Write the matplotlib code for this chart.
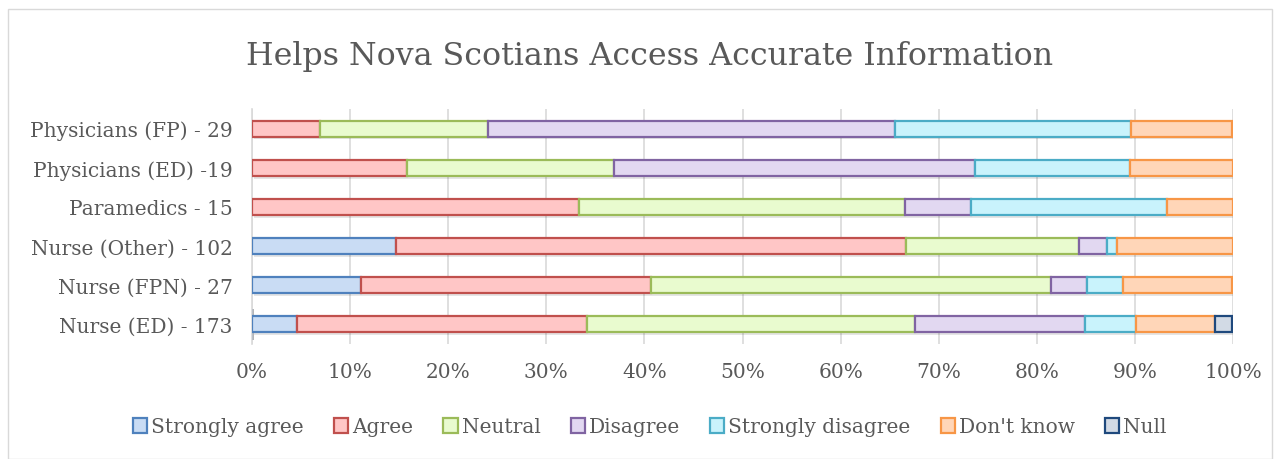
import matplotlib
matplotlib.use('Agg')
import matplotlib.pyplot as plt
from matplotlib.patches import Rectangle
import numpy as np

# --- data (percent of respondents) ---
groups = ["Nurse (ED) - 173", "Nurse (FPN) - 27", "Nurse (Other) - 102",
          "Paramedics - 15", "Physicians (ED) -19", "Physicians (FP) - 29"]
responses = ["Strongly agree", "Agree", "Neutral", "Disagree",
             "Strongly disagree", "Don't know", "Null"]

strongly_agree = [4.6, 11.1, 14.7, 0.0, 0.0, 0.0]
agree = [29.5, 29.6, 52.0, 33.3, 15.8, 6.9]
neutral = [33.5, 40.7, 17.6, 33.3, 21.1, 17.2]
disagree = [17.3, 3.7, 2.9, 6.7, 36.8, 41.4]
strongly_disagree = [5.2, 3.7, 1.0, 20.0, 15.8, 24.1]
dont_know = [8.1, 11.1, 11.8, 6.7, 10.5, 10.3]
null = [1.7, 0.0, 0.0, 0.0, 0.0, 0.0]

series = [strongly_agree, agree, neutral, disagree, strongly_disagree, dont_know, null]

fills = ["#c9dcf4", "#ffc6c6", "#e9fbcf", "#e2d8f1", "#c9f3fc", "#ffd6b8", "#d2dae5"]
edges = ["#4f81bd", "#c0504d", "#9bbb59", "#8064a2", "#4bacc6", "#f79646", "#1f497d"]

plt.rcParams['font.family'] = ['DejaVu Serif']
grey = "#595959"

fig = plt.figure(figsize=(12.81, 4.60), dpi=100)
ax = fig.add_axes([252 / 1281, 1 - 345 / 460, (1233 - 252) / 1281, (345 - 110) / 460])

# outer chart border
fig.patches.append(Rectangle((8 / 1281, 0), (1272 - 8) / 1281, 1 - 10 / 460,
                             transform=fig.transFigure, fill=False,
                             edgecolor="#d9d9d9", linewidth=1.0))

y = np.arange(len(groups))
h = 0.41
left = np.zeros(len(groups))
for vals, fc, ec, name in zip(series, fills, edges, responses):
    vals = np.array(vals)
    show = vals > 0
    # soft shadow under each bar segment
    ax.barh(y[show] - 0.07, vals[show], height=h, left=left[show] + 0.25,
            color="#000000", alpha=0.10, linewidth=0, zorder=2)
    ax.barh(y[show], vals[show], height=h, left=left[show], color=fc,
            edgecolor=ec, linewidth=1.6, zorder=3)
    # legend proxy
    ax.barh([0], [0], color=fc, edgecolor=ec, linewidth=1.6, label=name)
    left += vals

ax.set_xlim(0, 100)
ax.set_ylim(-0.5, len(groups) - 0.5)
ax.set_xticks(np.arange(0, 101, 10))
ax.set_xticklabels([f"{t}%" for t in range(0, 101, 10)])
ax.set_yticks(y)
ax.set_yticklabels(groups)
ax.tick_params(axis='both', length=0, labelsize=14.5, colors=grey)
ax.tick_params(axis='x', pad=13)
ax.tick_params(axis='y', pad=14)
ax.grid(axis='x', color="#d9d9d9", linewidth=1.2, zorder=0)
ax.set_axisbelow(True)
for s in ["top", "right", "bottom"]:
    ax.spines[s].set_visible(False)
ax.spines["left"].set_color("#d9d9d9")
ax.spines["left"].set_linewidth(1.2)

fig.text(650 / 1281, 1 - 57 / 460, "Helps Nova Scotians Access Accurate Information",
         ha="center", va="center", fontsize=22.8, color=grey)

leg = fig.legend(*ax.get_legend_handles_labels(), loc="center",
                 bbox_to_anchor=(650 / 1281, 1 - 428 / 460), ncol=7, frameon=False,
                 fontsize=14.5, handlelength=0.7, handleheight=0.7,
                 handletextpad=0.2, columnspacing=1.5)
for t in leg.get_texts():
    t.set_color(grey)

fig.savefig("out.png", dpi=100)
